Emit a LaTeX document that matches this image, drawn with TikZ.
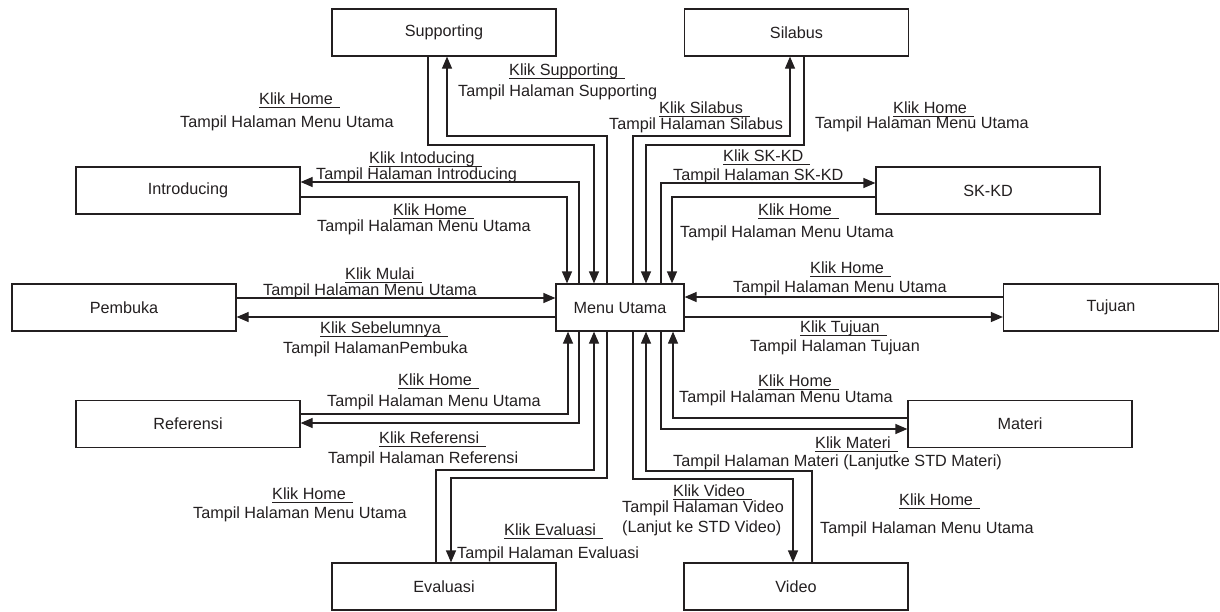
\documentclass[tikz,border=0pt]{standalone}
\usepackage{fontspec}
\setmainfont{Liberation Sans}
\usetikzlibrary{arrows.meta}
\definecolor{ink}{RGB}{35,31,32}
\newcommand{\kul}[1]{\setbox0\hbox{#1}\rlap{\rule[-4pt]{\dimexpr\wd0+7pt\relax}{0.8pt}}#1}
\begin{document}
\begin{tikzpicture}[x=1pt,y=-1pt,font=\fontsize{16.2}{19}\selectfont,
  box/.style={draw=ink,line width=1.2pt,minimum width=224pt,minimum height=47pt,inner sep=0pt,text=ink},
  lbl/.style={anchor=base west,inner sep=0pt,text=ink},
  ln/.style={draw=ink,line width=1.2pt},
  arr/.style={ln,-{Triangle[length=12pt,width=10pt]}}]
\useasboundingbox (0,0) rectangle (1220,611);
% boxes
\node[box] (sup) at (444,32.5) {Supporting};
\node[box] (sil) at (796.5,32.5) {Silabus};
\node[box] (intro) at (188,190.5) {Introducing};
\node[box] (skkd) at (988,190.5) {SK-KD};
\node[box] (pem) at (124,307.5) {Pembuka};
\node[box,minimum width=128pt] (mu) at (620,307.5) {Menu Utama};
\node[box,minimum width=215pt] (tuj) at (1111,307.5) {Tujuan};
\node[box] (ref) at (188,424) {Referensi};
\node[box] (mat) at (1020,424) {Materi};
\node[box] (eva) at (444,586.5) {Evaluasi};
\node[box] (vid) at (796,586.5) {Video};
% top connectors
\draw[arr] (sup.south -| 428,0) |- (594,145) -- (mu.north -| 594,0);
\draw[arr] (mu.north -| 607,0) |- (447,136) -- (sup.south -| 447,0);
\draw[arr] (sil.south -| 804,0) |- (646,145) -- (mu.north -| 646,0);
\draw[arr] (mu.north -| 633,0) |- (790,136) -- (sil.south -| 790,0);
\draw[arr] (mu.north -| 579,0) |- (intro.east |- 0,182);
\draw[arr] (intro.east |- 0,197) -| (mu.north -| 567,0);
\draw[arr] (mu.north -| 661,0) |- (skkd.west |- 0,183);
\draw[arr] (skkd.west |- 0,197) -| (mu.north -| 672,0);
% side connectors
\draw[arr] (pem.east |- 0,298) -- (mu.west |- 0,298);
\draw[arr] (mu.west |- 0,317) -- (pem.east |- 0,317);
\draw[arr] (tuj.west |- 0,297) -- (mu.east |- 0,297);
\draw[arr] (mu.east |- 0,317) -- (tuj.west |- 0,317);
% bottom connectors
\draw[arr] (ref.east |- 0,414) -| (mu.south -| 568,0);
\draw[arr] (mu.south -| 579,0) |- (ref.east |- 0,423);
\draw[arr] (eva.north -| 436,0) |- (594,470) -- (mu.south -| 594,0);
\draw[arr] (mu.south -| 607,0) |- (451,478) -- (eva.north -| 451,0);
\draw[arr] (mu.south -| 633,0) |- (793,479) -- (vid.north -| 793,0);
\draw[arr] (vid.north -| 812,0) |- (646,471) -- (mu.south -| 646,0);
\draw[arr] (mu.south -| 661,0) |- (mat.west |- 0,429);
\draw[arr] (mat.west |- 0,418) -| (mu.south -| 673,0);
% labels
\node[lbl] (k1) at (509,75) {\kul{Klik Supporting}};
\node[lbl] (t1) at (458,96) {Tampil Halaman Supporting};
\node[lbl] (k2) at (259,104) {\kul{Klik Home}};
\node[lbl] (t2) at (180,127) {Tampil Halaman Menu Utama};
\node[lbl] (k3) at (369,163) {\kul{Klik Intoducing}};
\node[lbl] (t3) at (316,179) {Tampil Halaman Introducing};
\node[lbl] (k4) at (393,215) {\kul{Klik Home}};
\node[lbl] (t4) at (317,231) {Tampil Halaman Menu Utama};
\node[lbl] (k5) at (345,279) {\kul{Klik Mulai}};
\node[lbl] (t5) at (263,295) {Tampil Halaman Menu Utama};
\node[lbl] (k6) at (320,333) {\kul{Klik Sebelumnya}};
\node[lbl] (t6) at (283,353) {Tampil HalamanPembuka};
\node[lbl] (k7) at (659,113) {\kul{Klik Silabus}};
\node[lbl] (t7) at (609,129) {Tampil Halaman Silabus};
\node[lbl] (k8) at (893,113) {\kul{Klik Home}};
\node[lbl] (t8) at (815,128) {Tampil Halaman Menu Utama};
\node[lbl] (k9) at (723,161) {\kul{Klik SK-KD}};
\node[lbl] (t9) at (673,180) {Tampil Halaman SK-KD};
\node[lbl] (k10) at (758,215) {\kul{Klik Home}};
\node[lbl] (t10) at (680,237) {Tampil Halaman Menu Utama};
\node[lbl] (k11) at (810,273) {\kul{Klik Home}};
\node[lbl] (t11) at (733,292) {Tampil Halaman Menu Utama};
\node[lbl] (k12) at (800,332) {\kul{Klik Tujuan}};
\node[lbl] (t12) at (750,351) {Tampil Halaman Tujuan};
\node[lbl] (k13) at (398,385) {\kul{Klik Home}};
\node[lbl] (t13) at (327,406) {Tampil Halaman Menu Utama};
\node[lbl] (k14) at (379,443) {\kul{Klik Referensi}};
\node[lbl] (t14) at (328,463) {Tampil Halaman Referensi};
\node[lbl] (k15) at (272,499) {\kul{Klik Home}};
\node[lbl] (t15) at (193,518) {Tampil Halaman Menu Utama};
\node[lbl] (k16) at (504,535) {\kul{Klik Evaluasi}};
\node[lbl] (t16) at (457,558) {Tampil Halaman Evaluasi};
\node[lbl] (k17) at (673,496) {\kul{Klik Video}};
\node[lbl] (t17) at (622,512) {Tampil Halaman Video};
\node[lbl] (u17) at (622,532) {(Lanjut ke STD Video)};
\node[lbl] (k18) at (758,386) {\kul{Klik Home}};
\node[lbl] (t18) at (679,402) {Tampil Halaman Menu Utama};
\node[lbl] (k19) at (815,448) {\kul{Klik Materi}};
\node[lbl] (t19) at (673,466) {Tampil Halaman Materi (Lanjutke STD Materi)};
\node[lbl] (k20) at (899,505) {\kul{Klik Home}};
\node[lbl] (t20) at (820,533) {Tampil Halaman Menu Utama};
\end{tikzpicture}
\end{document}
